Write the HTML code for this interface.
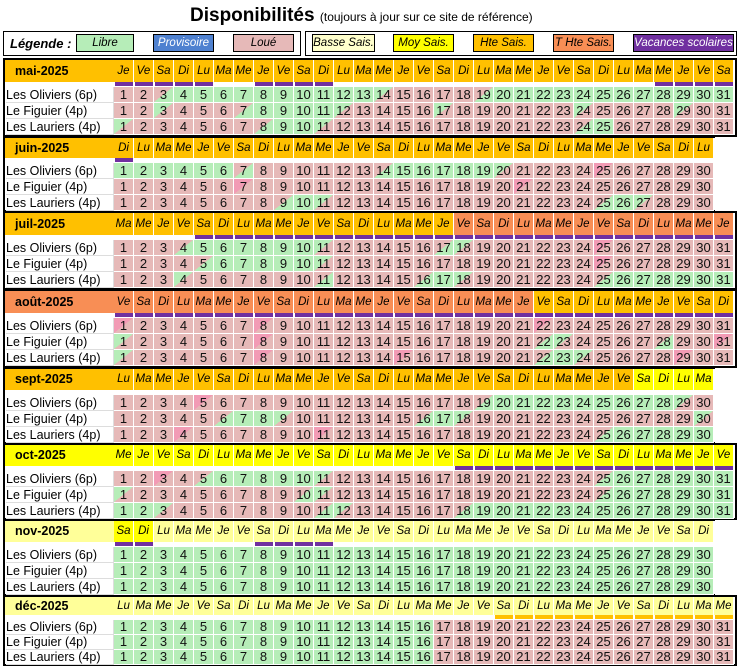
<!DOCTYPE html>
<html><head><meta charset="utf-8">
<style>
body{margin:0;width:738px;height:672px;background:#fff;position:relative;overflow:hidden;font-family:"Liberation Sans",sans-serif;}
.abs{position:absolute;box-sizing:border-box;}
.lg{position:absolute;top:34px;height:18px;border:1px solid #000;font-style:italic;font-size:11.5px;text-align:center;line-height:16px;box-sizing:border-box;white-space:nowrap;overflow:hidden;}
.cell{position:absolute;box-sizing:border-box;border-right:1px solid #fff;border-bottom:1px solid #fff;text-align:center;font-size:13px;color:#111;}
.hd{position:absolute;box-sizing:border-box;border-right:1px solid #fff;text-align:center;font-size:11.5px;font-style:italic;}
.lab{position:absolute;left:6px;width:108px;font-size:12.5px;border-right:1px solid #ddd;border-bottom:1px solid #ddd;box-sizing:border-box;white-space:nowrap;overflow:hidden;}
</style></head><body>
<div class="abs" style="left:190px;top:5px;font-size:19px;font-weight:bold;white-space:nowrap;">Disponibilités <span style="font-size:12px;font-weight:normal">(toujours à jour sur ce site de référence)</span></div>
<div class="abs" style="left:3px;top:31px;width:298px;height:25px;border:1px solid #000;"></div>
<div class="abs" style="left:305px;top:31px;width:432px;height:25px;border:1px solid #000;"></div>
<div class="abs" style="left:10px;top:36px;font-size:13px;font-weight:bold;font-style:italic;">Légende :</div>
<div class="lg" style="left:76px;width:58px;background:#b6edb8;">Libre</div>
<div class="lg" style="left:153px;width:61px;background:#4f81d0;color:#fff;">Provisoire</div>
<div class="lg" style="left:233px;width:61px;background:#e6b9b8;">Loué</div>
<div class="lg" style="left:312px;width:63px;background:#ffffcc;">Basse Sais.</div>
<div class="lg" style="left:393px;width:61px;background:#ffff00;">Moy Sais.</div>
<div class="lg" style="left:473px;width:61px;background:#ffc000;">Hte Sais.</div>
<div class="lg" style="left:553px;width:61px;background:#f88e55;">T Hte Sais.</div>
<div class="lg" style="left:633px;width:101px;background:#7030a0;color:#fff;">Vacances scolaires</div>
<div id="cal"></div>
<script>
const months=["mai-2025","juin-2025","juil-2025","août-2025","sept-2025","oct-2025","nov-2025","déc-2025"];
const monthIdx=[4,5,6,7,8,9,10,11];
const units=["Les Oliviers (6p)","Le Figuier (4p)","Les Lauriers (4p)"];
const dayNames=["Di","Lu","Ma","Me","Je","Ve","Sa"];
// G libre, R loué, X loué (accent), A arrivée (libre->loué), D départ (loué->libre)
const availMai=["RRDGGGGGGGGGGARRRRDGGGGGGGGGGGG","RRARRRDGGGGARRRRARRRRRRARRRRARR","ARRRRRRDGGARRRRRRRRRRRRDGRRRRRR"];
const availJuin=["GGGGGGDRRRRRRDGGGGGARRRRXRRRRR","RRRRRRXRRRRRRRRRRRRRXRRRRRRRRR","RRRRRRRRDGARRRRRRRRRRRRRDGARRR"];
const availJuil=["RRRDGGGGGGARRRRRDARRRRRRXRRRRRR","RRRRDGGGGGARRRRRRRRRRRRRXRRRRRR","RRRARRRRRRDRRRRDGARRRRRRDGGGGGG"];
const availAout=["XRRRRRRXRRRRRRRRRRRRRXRRRRRRRRR","ARRRRRRXRRRRRRRRRRRRRDARRRRDRRX","ARRRRRRXRRRRRRXRRRRRRDGARRRRXRR"];
const availSept=["RRRRXRRRRRRRRRRRRRDGGGGGGGGGAR","RRRRRDGGARRRRRRDGARRRRRRRRRRRA","RRRXRRRRRRXRRRRRRRRRRRRRDGGGGG"];
const availOct=["RRXRDGGGGGARRRRRRRRRRRRRDGGGGGG","ARRRRRRRRDARRRRRRRRRRRRRDGGGGGG","GGARRRRRRRDARRRRRDGGGGGGGGGGGGG"];
const availNov=["GGGGGGGGGGGGGGGGGGGGGGGGGGGGGG","GGGGGGGGGGGGGGGGGGGGGGGGGGGGGG","GGGGGGGGGGGGGGGGGGGGGGGGGGGGGG"];
const availDec=["GGGGGGGGGGGGGGGGRRRRRRRRRRRRRRR","GGGGGGGGGGGGGGGGRRRRRRRRRRRRRRR","GGGGGGGGGGGGGGGGRRRRRRRRRRRRRRR"];
const avail=[availMai,availJuin,availJuil,availAout,availSept,availOct,availNov,availDec];
const seasons=["HHHHHHHHHHHHHHHHHHHHHHHHHHHHHHH","HHHHHHHHHHHHHHHHHHHHHHHHHHHHHH","HHHHHHHHHHHHHHHHHTTTTTTTTTTTTTT","TTTTTTTTTTTTTTTTTTTTTHHHHHHHHHH","HHHHHHHHHHHHHHHHHHHHHHHHHHMMMM","MMMMMMMMMMMMMMMMMMMMMMMMMMMMMMM","MMBBBBBBBBBBBBBBBBBBBBBBBBBBBB","BBBBBBBBBBBBBBBBBBBBBBBBBBBBBBB"];
const monthSeason=["H","H","H","T","H","M","B","B"];
const vacances=["VVVVV..VVVV................VVVV","V.............................","....VVVVVVVVVVVVVVVVVVVVVVVVVVV","VVVVVVVVVVVVVVVVVVVVVVVVVVVVVVV","..............................",".................VVVVVVVVVVVVVV","VV.....VVVV...................","...................OOOOOOOOOOOO"];
const blockTops=[59,137,212,290,368,444,520,596];
const blockHeights=[78,75,78,78,76,76,76,70];
const headerHeights=[22,20,22,22,21,21,21,18];
const rowHeights=[16,16,16,16,16,16,16,15];

const seasonColor={B:"#ffff99",M:"#ffff00",H:"#ffc000",T:"#f88e55"};
const G="#b6edb8",R="#e6b9b8",X="#f29bb5";
function fill(c){
  if(c==="G")return G; if(c==="R")return R; if(c==="X")return "linear-gradient(to bottom right,"+X+" 50%,"+R+" 50%)";
  if(c==="A")return "linear-gradient(to bottom right,"+G+" 50%,"+R+" 50%)";
  return "linear-gradient(to bottom right,"+R+" 50%,"+G+" 50%)";
}
const X0=114,CW=20,BAR=5;
function xPos(d){return X0+d*CW;}
const cal=document.getElementById("cal");
function mk(cls,style,txt){const e=document.createElement("div");e.className=cls;e.setAttribute("style",style);if(txt!==undefined)e.textContent=txt;cal.appendChild(e);return e;}
months.forEach((m,mi)=>{
  const top=blockTops[mi];
  const HH=headerHeights[mi],RH=rowHeights[mi];
  const ndays=avail[mi][0].length;
  const frame=mk("abs","left:3px;top:"+(top-1)+"px;width:"+(ndays===31?734:xPos(ndays)+1-3)+"px;height:"+(blockHeights[mi]+1)+"px;border:2px solid #000;"+(ndays<31?"border-right:none;":""));
  
  
  const ml=mk("abs","left:5px;top:"+(top+1)+"px;width:109px;height:"+HH+"px;background:"+seasonColor[monthSeason[mi]]+";font-weight:bold;font-size:12.5px;line-height:"+HH+"px;padding-left:10px;",m);
  
  
  for(let d=0;d<ndays;d++){
    const wd=new Date(2025,monthIdx[mi],d+1).getDay();
    const h=mk("hd","left:"+xPos(d)+"px;top:"+(top+1)+"px;width:"+CW+"px;height:"+HH+"px;line-height:"+HH+"px;background:"+seasonColor[seasons[mi][d]]+";",dayNames[wd]);
    
    
    const v=vacances[mi][d];
    if(v!=="."){
      const b=mk("abs","left:"+(xPos(d)+1)+"px;top:"+(top+HH+1)+"px;width:"+(CW-2)+"px;height:"+(BAR-1)+"px;background:"+(v==="V"?"#7030a0":"#ffc000")+";");
      
      
    }
  }
  units.forEach((u,ui)=>{
    const y=top+HH+BAR+1+ui*RH;
    const l=mk("lab","top:"+y+"px;height:"+RH+"px;line-height:"+RH+"px;",u);
    
    
    for(let d=0;d<ndays;d++){
      const c=mk("cell","left:"+xPos(d)+"px;top:"+y+"px;width:"+CW+"px;height:"+RH+"px;line-height:"+(RH-1)+"px;background:"+fill(avail[mi][ui][d])+";",String(d+1));
      
      
    }
  });
});
</script>
</body></html>
